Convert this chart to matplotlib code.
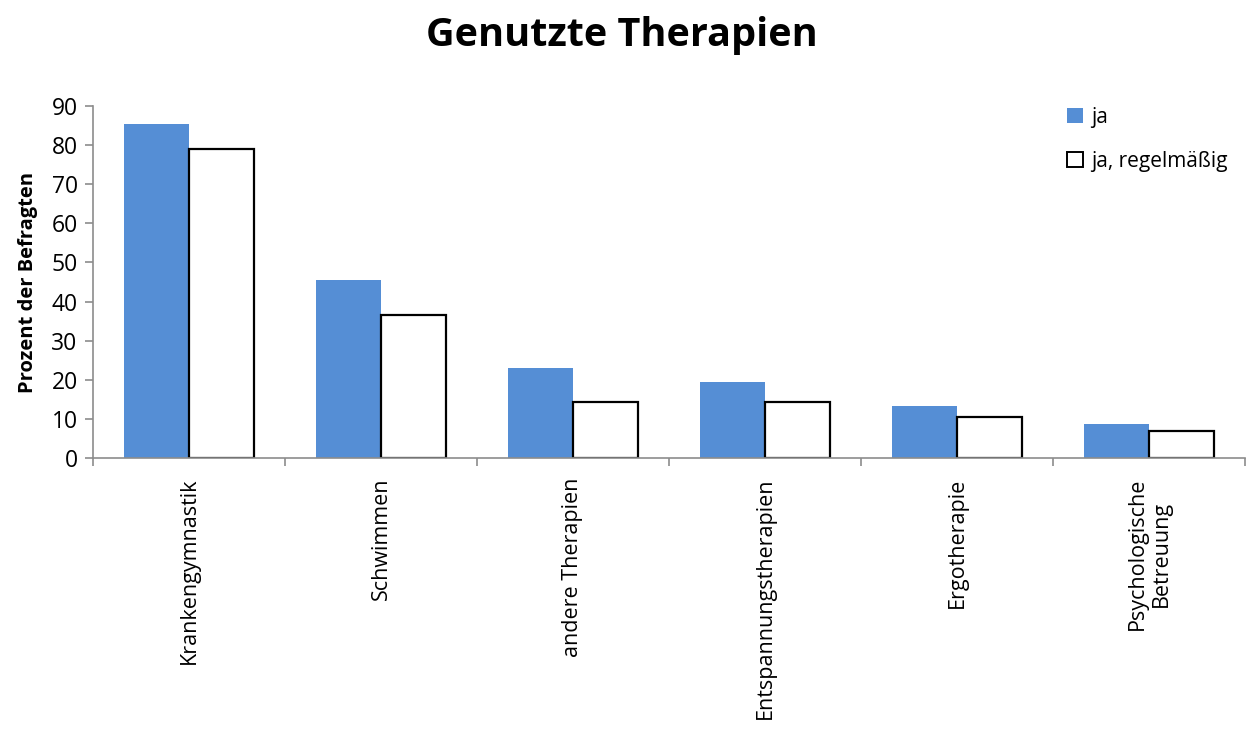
import numpy as np
import matplotlib.pyplot as plt
from matplotlib.patches import Patch

categories = ["Krankengymnastik", "Schwimmen", "andere Therapien",
              "Entspannungstherapien", "Ergotherapie", "Psychologische\nBetreuung"]
ja = [85.4, 45.5, 23.0, 19.4, 13.3, 8.8]
ja_regelmaessig = [78.9, 36.6, 14.3, 14.3, 10.6, 7.0]

blue = "#558ED5"
grey = "#8C8C8C"
plt.rcParams["font.family"] = ["Open Sans", "DejaVu Sans"]

fig = plt.figure(figsize=(12.51, 7.33), dpi=100)
ax = fig.add_axes([0.0743, 0.3748, 0.9209, 0.481])

x = np.arange(len(categories))
w = 0.34
ax.bar(x - w / 2, ja, w, color=blue, edgecolor="none")
ax.bar(x + w / 2, ja_regelmaessig, w, color="white", edgecolor="black", linewidth=1.6)

ax.set_xlim(-0.5, len(categories) - 0.5)
ax.set_ylim(0, 90)
ax.set_yticks(range(0, 91, 10))
ax.tick_params(axis="y", labelsize=16.5, length=6, color=grey, width=1.2, pad=5)

ax.set_xticks(x)
ax.set_xticklabels(categories, rotation=90, va="top", ha="center",
                   fontsize=15.5, linespacing=1.2, multialignment="center")
ax.tick_params(axis="x", length=0, pad=14)
ax.set_xticks(np.arange(-0.5, len(categories)), minor=True)
ax.tick_params(axis="x", which="minor", length=6, color=grey, width=1.2)

for side in ["top", "right"]:
    ax.spines[side].set_visible(False)
for side in ["left", "bottom"]:
    ax.spines[side].set_color(grey)
    ax.spines[side].set_linewidth(1.2)

ax.set_ylabel("Prozent der Befragten", fontsize=14.5, fontweight="bold", labelpad=10)

fig.suptitle("Genutzte Therapien", fontsize=28.5, fontweight="bold", x=0.497, y=0.978)

handles = [Patch(facecolor=blue, edgecolor="none", label="ja"),
           Patch(facecolor="white", edgecolor="black", linewidth=1.4, label="ja, regelmäßig")]
fig.legend(handles=handles, loc="upper left", bbox_to_anchor=(0.838, 0.88),
           frameon=False, fontsize=15, handlelength=0.75, handleheight=0.75,
           handletextpad=0.4, labelspacing=1.1)

fig.savefig("out.png", dpi=100)
